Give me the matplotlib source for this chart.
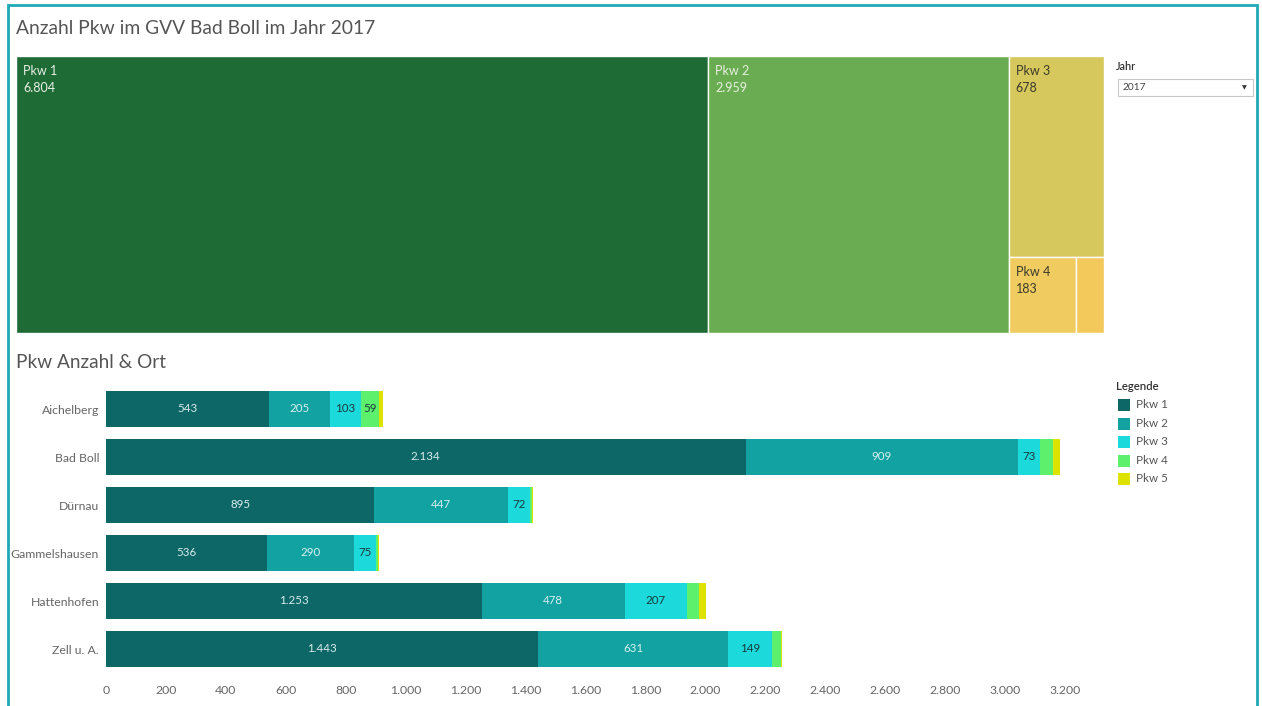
import matplotlib
matplotlib.use("Agg")
import matplotlib.pyplot as plt
from matplotlib.patches import Rectangle

plt.rcParams['font.family'] = ['Lato', 'DejaVu Sans']

# ---- data ----
classes = ["Pkw 1", "Pkw 2", "Pkw 3", "Pkw 4", "Pkw 5"]
totals = [6804, 2959, 678, 183, 75]

places = ["Aichelberg", "Bad Boll", "Dürnau", "Gammelshausen", "Hattenhofen", "Zell u. A."]
pkw1 = [543, 2134, 895, 536, 1253, 1443]
pkw2 = [205, 909, 447, 290, 478, 631]
pkw3 = [103, 73, 72, 75, 207, 149]
pkw4 = [59, 44, 6, 5, 40, 29]
pkw5 = [13, 24, 6, 5, 25, 2]
x_ticks = [0, 200, 400, 600, 800, 1000, 1200, 1400, 1600, 1800, 2000,
           2200, 2400, 2600, 2800, 3000, 3200]
year = "2017"

tree_colors = ["#1e6b35", "#6aac52", "#d6c85c", "#f0cc60", "#f2c95a"]
tree_text = ["#e8f0e8", "#e8f0e0", "#3a3a2a", "#3a3a2a", "#3a3a2a"]
bar_colors = ["#0e6767", "#12a2a2", "#1cd9db", "#5cf06c", "#dde200"]
bar_text = ["#d8ecec", "#d8f0f0", "#1a3a3a", "#1a3a3a", "#1a3a3a"]

W, H = 1262, 706
fig = plt.figure(figsize=(W / 100, H / 100), dpi=100)
fig.patch.set_facecolor("white")


def px_axes(x0, y0, x1, y1):
    return fig.add_axes([x0 / W, 1 - y1 / H, (x1 - x0) / W, (y1 - y0) / H])


def de(n):
    return f"{n:,}".replace(",", ".")


# outer frame
fig.add_artist(Rectangle((8 / W, -0.01), (1257 - 8) / W, 1 - 5 / H + 0.01,
                         transform=fig.transFigure, fill=False,
                         edgecolor="#20a9b4", linewidth=2))

title_c = "#555555"
fig.text(16 / W, 1 - 29 / H, "Anzahl Pkw im GVV Bad Boll im Jahr 2017",
         fontsize=13.9, color=title_c, va="center", ha="left")
fig.text(16 / W, 1 - 363 / H, "Pkw Anzahl & Ort",
         fontsize=13.7, color=title_c, va="center", ha="left")

# ---- treemap ----
ax_t = px_axes(16, 56, 1104, 333)
ax_t.set_xlim(0, 1)
ax_t.set_ylim(0, 1)
ax_t.axis("off")
T = sum(totals)
rest = sum(totals[2:])
w1 = totals[0] / T
w2 = totals[1] / T
w3 = rest / T
h3 = totals[2] / rest
f4 = totals[3] / (totals[3] + totals[4])
cells = [
    (0, 0, w1, 1),
    (w1, 0, w2, 1),
    (w1 + w2, 1 - h3, w3, h3),
    (w1 + w2, 0, w3 * f4, 1 - h3),
    (w1 + w2 + w3 * f4, 0, w3 * (1 - f4), 1 - h3),
]
for i, (x, y, w, h) in enumerate(cells):
    ax_t.add_patch(Rectangle((x, y), w, h, facecolor=tree_colors[i],
                             edgecolor="white", linewidth=1))
    if i < 4:
        ax_t.text(x + 7 / 1088, y + h - 15 / 277, classes[i], fontsize=9,
                  color=tree_text[i], va="center", ha="left")
        ax_t.text(x + 7 / 1088, y + h - 32 / 277, de(totals[i]), fontsize=9,
                  color=tree_text[i], va="center", ha="left")

# year filter
fig.text(1116 / W, 1 - 67 / H, "Jahr", fontsize=7.8, color="#333333",
         va="center", ha="left", fontweight="semibold")
fig.add_artist(Rectangle((1118 / W, 1 - 96 / H), (1253 - 1118) / W, 17 / H,
                         transform=fig.transFigure, facecolor="white",
                         edgecolor="#c8c8c8", linewidth=0.8))
fig.text(1123 / W, 1 - 88 / H, year, fontsize=7.3, color="#444444",
         va="center", ha="left")
fig.text(1244 / W, 1 - 88 / H, "▼", fontsize=4.5, color="#333333",
         va="center", ha="center", family="DejaVu Sans")

# ---- stacked bars ----
ax_b = px_axes(106, 385, 1095, 673)
series = [pkw1, pkw2, pkw3, pkw4, pkw5]
ypos = list(range(len(places)))
left = [0] * len(places)
for k, vals in enumerate(series):
    ax_b.barh(ypos, vals, left=left, height=0.75, color=bar_colors[k],
              edgecolor="none")
    for j, v in enumerate(vals):
        if v >= 55:
            ax_b.text(left[j] + v / 2, j, de(v), fontsize=8.3,
                      color=bar_text[k], va="center", ha="center")
    left = [a + b for a, b in zip(left, vals)]

ax_b.set_xlim(0, 3300)
ax_b.set_ylim(len(places) - 0.5, -0.5)
ax_b.set_yticks(ypos)
ax_b.set_yticklabels(places, fontsize=8.8, color="#666666")
ax_b.set_xticks(x_ticks)
ax_b.set_xticklabels([de(t) for t in x_ticks], fontsize=8.8, color="#666666")
ax_b.tick_params(axis="both", length=0)
ax_b.tick_params(axis="y", pad=5)
ax_b.tick_params(axis="x", pad=9)
for s in ax_b.spines.values():
    s.set_visible(False)

# legend
fig.text(1116 / W, 1 - 387 / H, "Legende", fontsize=8.2, color="#333333",
         va="center", ha="left", fontweight="semibold")
for k, name in enumerate(classes):
    yc = 405 + k * 18.5
    fig.add_artist(Rectangle((1118 / W, 1 - (yc + 6) / H), 12 / W, 12 / H,
                             transform=fig.transFigure,
                             facecolor=bar_colors[k], edgecolor="none"))
    fig.text(1136 / W, 1 - yc / H, name, fontsize=8.4, color="#555555",
             va="center", ha="left")

fig.savefig("out.png", dpi=100)
